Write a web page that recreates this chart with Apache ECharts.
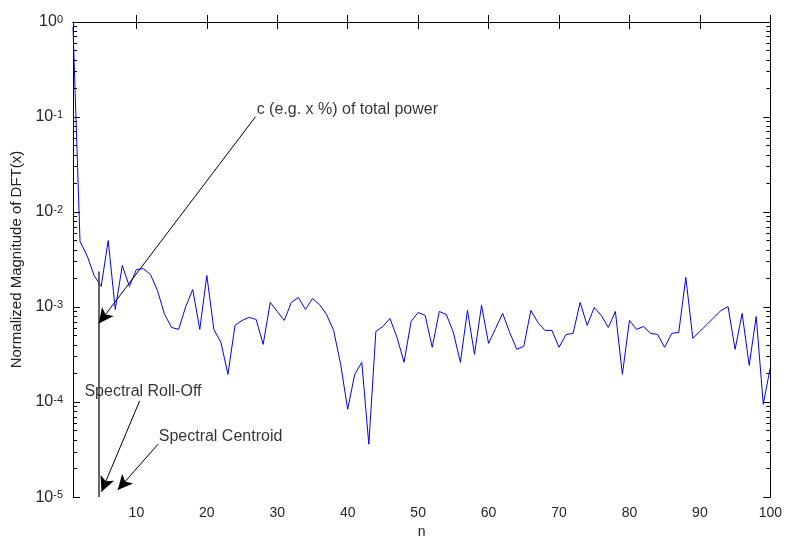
<!DOCTYPE html>
<html><head><meta charset="utf-8">
<script src="https://cdn.jsdelivr.net/npm/echarts@6/dist/echarts.min.js"></script>
<style>html,body{margin:0;padding:0;background:#fff;}#c{width:785px;height:544px;}</style>
</head><body><div id="c"></div>
<script>
// ---- data ----
const nValues = [1,2,3,4,5,6,7,8,9,10,11,12,13,14,15,16,17,18,19,20,21,22,23,24,25,26,27,28,29,30,31,32,33,34,35,36,37,38,39,40,41,42,43,44,45,46,47,48,49,50,51,52,53,54,55,56,57,58,59,60,61,62,63,64,65,66,67,68,69,70,71,72,73,74,75,76,77,78,79,80,81,82,83,84,85,86,87,88,89,90,91,92,93,94,95,96,97,98,99,100];
const magnitudes = [
  0.886, 0.00489, 0.00348, 0.00215, 0.00165, 0.00501, 0.000944, 0.00274, 0.00165, 0.00248,
  0.00254, 0.00220, 0.00149, 0.000836, 0.000610, 0.000582, 0.00101, 0.00153, 0.000582, 0.00215,
  0.000582, 0.000425, 0.000196, 0.000641, 0.000723, 0.000778, 0.000741, 0.000405, 0.00112, 0.000899,
  0.000723, 0.00112, 0.00126, 0.000944, 0.00123, 0.00106, 0.000836, 0.000568, 0.000249, 0.0000840,
  0.000196, 0.000262, 0.0000360, 0.000554, 0.000625, 0.000759, 0.000480, 0.000262, 0.000706, 0.000878,
  0.000816, 0.000377, 0.000899, 0.000836, 0.000541, 0.000262, 0.000921, 0.000318, 0.00104, 0.000415,
  0.000596, 0.000857, 0.000541, 0.000359, 0.000386, 0.000921, 0.000689, 0.000568, 0.000568, 0.000377,
  0.000515, 0.000528, 0.00112, 0.000641, 0.000990, 0.000816, 0.000610, 0.000899, 0.000196, 0.000723,
  0.000582, 0.000625, 0.000528, 0.000515, 0.000377, 0.000528, 0.000541, 0.00205, 0.000468, 0.000554,
  0.000656, 0.000778, 0.000921, 0.00101, 0.000359, 0.000857, 0.000244, 0.000796, 0.0000948, 0.000232
];
const xTicks = [10,20,30,40,50,60,70,80,90,100];
const minorMultipliers = [2,3,4,5,6,7,8,9];
const decades = [-5,-4,-3,-2,-1];

// annotations (data coordinates)
const annTexts = ['c (e.g. x %) of total power', 'Spectral Roll-Off', 'Spectral Centroid'];
const annTextX = [27.0, 2.55, 13.1];
const annTextY = [0.119, 1.30e-4, 4.37e-5];
const arrowFrom = [[26.9, 0.1005], [10.46, 1.03e-4], [13.07, 3.6e-5]];
const arrowTo   = [[4.66, 0.000673], [5.05, 1.14e-5], [7.35, 1.19e-5]];
const rollOffX = 4.62;
const rollOffTop = 0.00237;
const yMin = 1e-5, yMax = 1;

// ---- chart ----
const FONT = '"Liberation Sans", Arial, Helvetica, sans-serif';
const minorVals = [];
decades.forEach(d => minorMultipliers.forEach(m => minorVals.push(d + Math.log10(m))));

const axisLineStyle = {color:'#000', width:1};
const chart = echarts.init(document.getElementById('c'), null, {renderer:'canvas'});

const markData = [
  [{coord:[rollOffX, rollOffTop], symbol:'none', lineStyle:{color:'#333', width:1.5}},
   {coord:[rollOffX, yMin], symbol:'none'}]
];
arrowFrom.forEach((f, i) => {
  markData.push([{coord:f, symbol:'none'}, {coord:arrowTo[i], symbol:'arrow', symbolSize:[11,15]}]);
});

const option = {
  animation:false,
  backgroundColor:'#fff',
  grid:{left:73, right:12, top:22, bottom:46, containLabel:false},
  xAxis:[
    {type:'value', min:1, max:100, position:'bottom',
     name:'n', nameLocation:'middle', nameGap:24,
     nameTextStyle:{fontFamily:FONT, fontSize:14, color:'#222'},
     axisLine:{show:true, lineStyle:axisLineStyle},
     axisTick:{show:true, inside:true, length:7, customValues:xTicks, lineStyle:axisLineStyle},
     axisLabel:{show:true, customValues:xTicks, margin:9, fontSize:14, color:'#262626', fontFamily:FONT},
     splitLine:{show:false}},
    {type:'value', min:1, max:100, position:'top',
     axisLine:{show:true, lineStyle:axisLineStyle},
     axisTick:{show:true, inside:true, length:7, customValues:xTicks, lineStyle:axisLineStyle},
     axisLabel:{show:false}, splitLine:{show:false}}
  ],
  yAxis:[
    {type:'log', logBase:10, min:yMin, max:yMax, position:'left',
     name:'Normalized Magnitude of DFT(x)', nameLocation:'middle', nameGap:46, nameRotate:90,
     nameTextStyle:{fontFamily:FONT, fontSize:15, color:'#222'},
     axisLine:{show:true, lineStyle:axisLineStyle},
     axisTick:{show:true, inside:true, length:7, lineStyle:axisLineStyle},
     axisLabel:{show:true, margin:10,
       formatter: v => '{b|10}{s|' + Math.round(Math.log10(v)) + '}',
       rich:{
         b:{fontSize:16, fontFamily:FONT, color:'#262626', lineHeight:16, padding:[8,0,0,0], verticalAlign:'bottom'},
         s:{fontSize:11, fontFamily:FONT, color:'#262626', lineHeight:11, verticalAlign:'top'}
       }},
     splitLine:{show:false}, minorTick:{show:false}},
    {type:'log', logBase:10, min:yMin, max:yMax, position:'right',
     axisLine:{show:true, lineStyle:axisLineStyle},
     axisTick:{show:true, inside:true, length:7, lineStyle:axisLineStyle},
     axisLabel:{show:false}, splitLine:{show:false}},
    {type:'value', min:-5, max:0, position:'left',
     axisLine:{show:false},
     axisTick:{show:true, inside:true, length:4, customValues:minorVals, lineStyle:axisLineStyle},
     axisLabel:{show:false}, splitLine:{show:false}},
    {type:'value', min:-5, max:0, position:'right',
     axisLine:{show:false},
     axisTick:{show:true, inside:true, length:4, customValues:minorVals, lineStyle:axisLineStyle},
     axisLabel:{show:false}, splitLine:{show:false}}
  ],
  series:[
    {type:'line', name:'DFT', xAxisIndex:0, yAxisIndex:0,
     data: nValues.map((n, i) => [n, magnitudes[i]]),
     showSymbol:false, symbol:'none', silent:true, z:3,
     lineStyle:{color:'#0000ff', width:1}},
    {type:'scatter', name:'annotations', xAxisIndex:0, yAxisIndex:0,
     data: annTexts.map((t, i) => ({name:t, value:[annTextX[i], annTextY[i]]})),
     symbolSize:1, itemStyle:{color:'rgba(0,0,0,0)'}, silent:true, z:5,
     label:{show:true, position:'right', distance:0, formatter:p => p.name,
            fontFamily:FONT, fontSize:16, color:'#000', align:'left', verticalAlign:'middle'},
     markLine:{silent:true, animation:false, symbol:['none','arrow'], symbolSize:14,
       label:{show:false}, emphasis:{disabled:true},
       lineStyle:{color:'#000', width:1, type:'solid'},
       data: markData}
    }
  ]
};
chart.setOption(option);
</script>
</body></html>
